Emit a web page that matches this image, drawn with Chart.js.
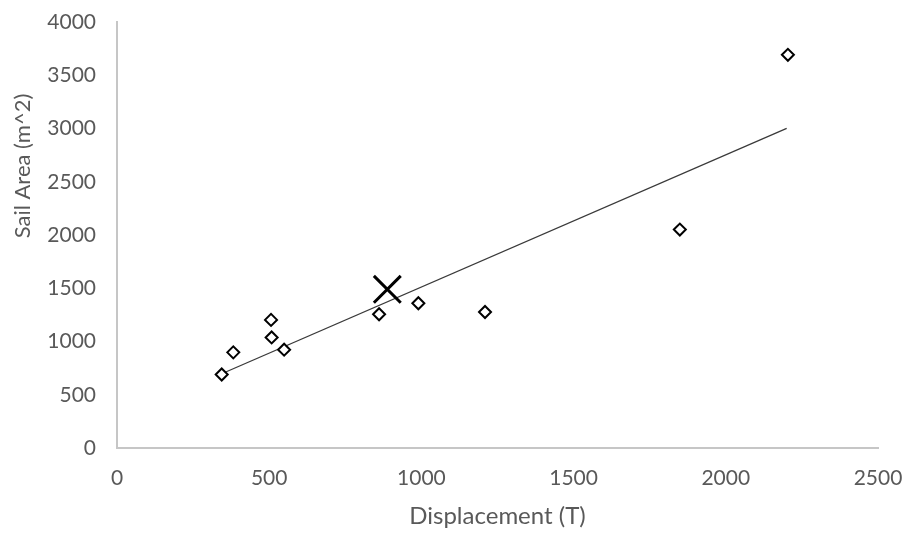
<!DOCTYPE html>
<html>
<head>
<meta charset="utf-8">
<script src="https://cdn.jsdelivr.net/npm/chart.js@4/dist/chart.umd.min.js"></script>
<style>
  html, body { margin: 0; padding: 0; background: #ffffff; }
  #wrap { position: relative; width: 907px; height: 533px; }
</style>
</head>
<body>
<div id="wrap"><canvas id="c" width="907" height="533"></canvas></div>
<script>
// Surveyed ships: displacement (tonnes) vs. sail area (m^2)
const displacement = [344, 382, 506, 508, 549, 861, 990, 1209, 1849, 2204];
const sailArea     = [690, 898, 1203, 1038, 923, 1256, 1359, 1277, 2051, 3692];

// Proposed design
const designDisplacement = [888];
const designSailArea     = [1490];

// Linear trend line end points
const trendDisplacement = [344, 2200];
const trendSailArea     = [697, 3002];

// Axis ranges / tick steps
const xTicks = [0, 500, 1000, 1500, 2000, 2500];
const yTicks = [0, 500, 1000, 1500, 2000, 2500, 3000, 3500, 4000];

const xTitle = 'Displacement (T)';
const yTitle = 'Sail Area (m^2)';

const toPoints = (xs, ys) => xs.map((x, i) => ({ x: x, y: ys[i] }));

const textColor = '#595959';
const axisColor = '#c6c6c6';
const fontFamily = 'Lato, "Open Sans", sans-serif';

// Rotated y-axis title drawn beside the tick labels
const yTitlePlugin = {
  id: 'yTitle',
  afterDraw(chart) {
    const ctx = chart.ctx;
    ctx.save();
    ctx.translate(23, 166);
    ctx.rotate(-Math.PI / 2);
    ctx.font = '22px ' + fontFamily;
    ctx.fillStyle = textColor;
    ctx.textAlign = 'center';
    ctx.textBaseline = 'middle';
    ctx.fillText(yTitle, 0, 0);
    ctx.restore();
  }
};

new Chart(document.getElementById('c'), {
  type: 'scatter',
  data: {
    datasets: [
      {
        label: 'Trend',
        type: 'line',
        data: toPoints(trendDisplacement, trendSailArea),
        borderColor: '#3a3a3a',
        borderWidth: 1.3,
        pointRadius: 0,
        fill: false,
        order: 3
      },
      {
        label: 'Ships',
        data: toPoints(displacement, sailArea),
        pointStyle: 'rectRot',
        pointRadius: 6,
        pointHoverRadius: 6,
        borderColor: '#000000',
        backgroundColor: '#ffffff',
        borderWidth: 2,
        order: 2
      },
      {
        label: 'Design',
        data: toPoints(designDisplacement, designSailArea),
        pointStyle: 'crossRot',
        pointRadius: 19,
        pointHoverRadius: 19,
        borderColor: '#000000',
        backgroundColor: '#000000',
        borderWidth: 3,
        order: 1
      }
    ]
  },
  options: {
    responsive: false,
    animation: false,
    events: [],
    layout: { padding: { top: 6, right: 0, left: 0, bottom: 0 } },
    plugins: {
      legend: { display: false },
      tooltip: { enabled: false }
    },
    scales: {
      x: {
        type: 'linear',
        min: xTicks[0],
        max: xTicks[xTicks.length - 1],
        afterBuildTicks: (s) => { s.ticks = xTicks.map(v => ({ value: v })); },
        afterFit: (s) => { s.height = 85; s.paddingLeft = 0; s.paddingRight = 29; },
        grid: { display: false, drawTicks: false },
        border: { display: true, color: axisColor, width: 2 },
        ticks: {
          color: textColor,
          padding: 18,
          font: { family: fontFamily, size: 21 },
          maxRotation: 0,
          callback: (v) => String(v)
        },
        title: {
          display: true,
          text: xTitle,
          color: textColor,
          font: { family: fontFamily, size: 24 },
          padding: { top: 0, bottom: 2 }
        }
      },
      y: {
        type: 'linear',
        min: yTicks[0],
        max: yTicks[yTicks.length - 1],
        afterBuildTicks: (s) => { s.ticks = yTicks.map(v => ({ value: v })); },
        afterFit: (s) => { s.width = 117; s.paddingTop = 12; s.paddingBottom = 0; },
        grid: { display: false, drawTicks: false },
        border: { display: true, color: axisColor, width: 2 },
        ticks: {
          color: textColor,
          padding: 21,
          font: { family: fontFamily, size: 21 },
          callback: (v) => String(v)
        }
      }
    }
  },
  plugins: [yTitlePlugin]
});
</script>
</body>
</html>
